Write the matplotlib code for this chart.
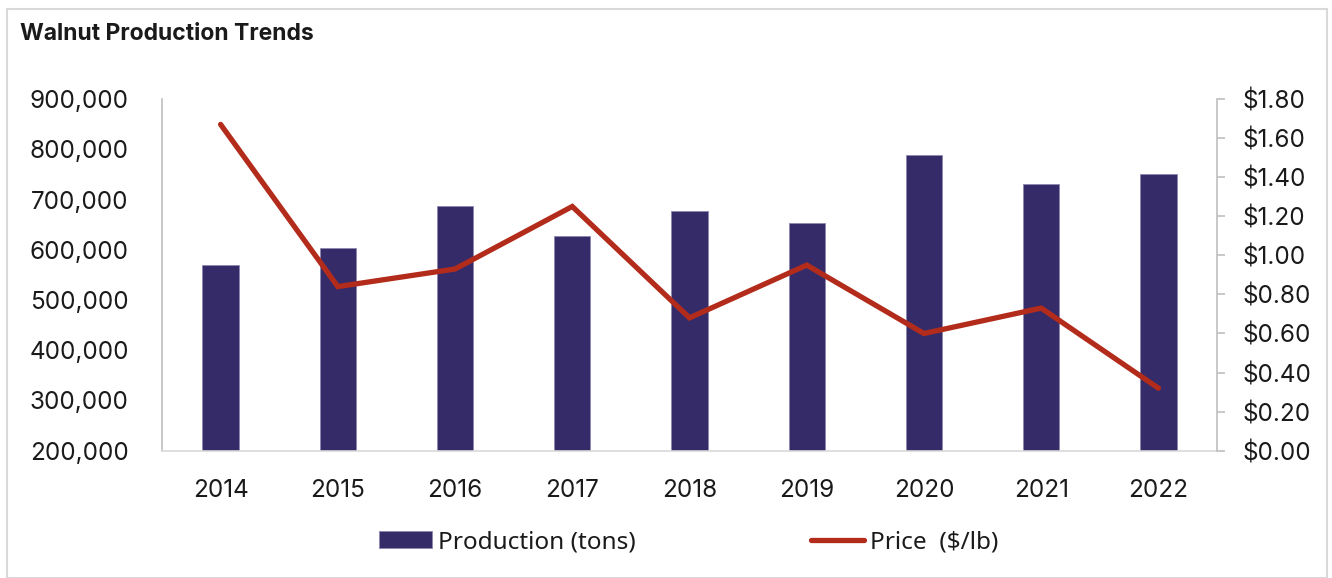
import numpy as np
import matplotlib.pyplot as plt
from matplotlib.patches import Rectangle
from matplotlib.ticker import FuncFormatter

years = ['2014', '2015', '2016', '2017', '2018', '2019', '2020', '2021', '2022']
production = [570000, 604000, 688000, 628000, 678000, 654000, 789000, 731000, 750000]
price = [1.67, 0.84, 0.93, 1.25, 0.68, 0.95, 0.60, 0.73, 0.32]

plt.rcParams['font.family'] = ['Inter', 'DejaVu Sans']
bar_color = '#362B69'
line_color = '#B32B1A'
grey = '#BFBFBF'
txt = '#1a1a1a'

fig = plt.figure(figsize=(13.32, 5.78), dpi=100)
fig.patches.append(Rectangle((0.005, 0.0), 0.991, 0.984, transform=fig.transFigure,
                             fill=False, edgecolor='#D9D9D9', linewidth=1.5))
fig.text(0.015, 0.942, 'Walnut Production Trends', fontsize=16.5, fontweight='bold',
         color=txt, va='center', ha='left')

ax = fig.add_axes([0.1216, 0.2202, 0.7921, 0.6085])
x = np.arange(len(years))
bars = ax.bar(x, production, width=0.31, color=bar_color, edgecolor='#8C88B0',
              linewidth=0.6, label='Production (tons)', zorder=2)
ax.set_ylim(200000, 900000)
ax.set_xlim(-0.5, len(years) - 0.5)
ax.set_yticks(np.arange(200000, 900001, 100000))
ax.yaxis.set_major_formatter(FuncFormatter(lambda v, p: '{:,.0f}'.format(v)))
ax.set_xticks(x)
ax.set_xticklabels(years)
ax.tick_params(axis='y', length=0, pad=24, labelsize=17.5, labelcolor=txt)
ax.tick_params(axis='x', length=0, pad=20, labelsize=17.5, labelcolor=txt)
for s in ['top', 'right']:
    ax.spines[s].set_visible(False)
ax.spines['left'].set_color(grey)
ax.spines['bottom'].set_color('#D9D9D9')
ax.spines['left'].set_linewidth(1.2)
ax.spines['bottom'].set_linewidth(1.2)

ax2 = ax.twinx()
line, = ax2.plot(x, price, color=line_color, linewidth=3.8, solid_capstyle='round',
                 solid_joinstyle='miter', label='Price  ($/lb)', zorder=3)
ax2.set_ylim(0, 1.8)
ax2.set_yticks(np.arange(0, 1.81, 0.2))
ax2.yaxis.set_major_formatter(FuncFormatter(lambda v, p: '${:.2f}'.format(v)))
ax2.tick_params(axis='y', length=6, width=1.2, color=grey, pad=12.5, labelsize=17.5,
                labelcolor=txt)
for s in ['top', 'left', 'bottom']:
    ax2.spines[s].set_visible(False)
ax2.spines['right'].set_color(grey)
ax2.spines['right'].set_linewidth(1.2)

fig.legend([bars, line], ['Production (tons)', 'Price  ($/lb)'], loc='center',
           bbox_to_anchor=(0.517, 0.062), ncol=2, frameon=False,
           prop={'family': ['Noto Sans', 'DejaVu Sans'], 'size': 17.5},
           handlelength=2.2, handleheight=0.7, handletextpad=0.25, columnspacing=7.2,
           labelcolor=txt)

plt.savefig('out.png', dpi=100)
